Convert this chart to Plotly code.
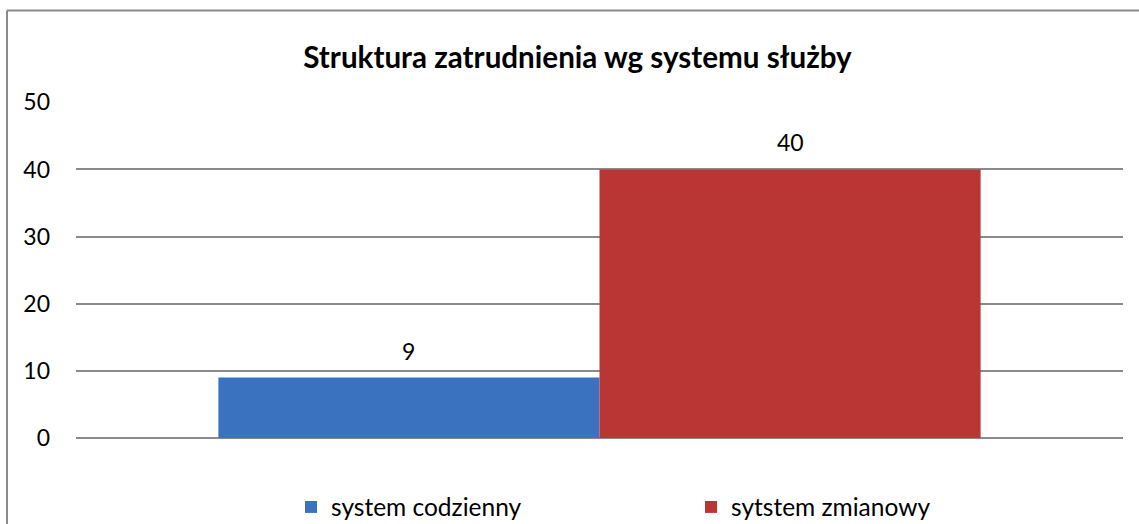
import plotly.graph_objects as go

categories = [""]
series_names = ["system codzienny", "sytstem zmianowy"]
series_values = [[9], [40]]
series_colors = ["#3a72bf", "#ba3634"]
title_text = "Struktura zatrudnienia wg systemu służby"
y_ticks = [0, 10, 20, 30, 40, 50]

W, H = 1139, 524
ml, mr, mt, mb = 76, 16, 102, 86
pw, ph = W - ml - mr, H - mt - mb
BARGAP = 0.272

FONT = "Lato, Carlito, Calibri, sans-serif"

fig = go.Figure()
for name, vals, col in zip(series_names, series_values, series_colors):
    fig.add_trace(go.Bar(
        x=categories, y=vals, name=name,
        marker=dict(color=col, line=dict(width=0)),
        cliponaxis=False,
    ))

# value labels placed above each bar (group offsets derived from bargap)
n = len(series_values)
bw = (1 - BARGAP) / n
annotations = []
for i, vals in enumerate(series_values):
    for j, v in enumerate(vals):
        xpos = j - (1 - BARGAP) / 2 + bw * (i + 0.5)
        annotations.append(dict(x=xpos, y=v, xref="x", yref="y", text=str(v),
                                showarrow=False, yanchor="middle", yshift=27,
                                font=dict(size=23, family=FONT, color="black")))


def px_x(p):
    return (p - ml) / pw


def px_y(p):
    return (H - mb - p) / ph


border = dict(color="#8a8a8a", width=2)

fig.update_layout(
    width=W, height=H,
    margin=dict(l=ml, r=mr, t=mt, b=mb, autoexpand=False),
    paper_bgcolor="white", plot_bgcolor="white",
    barmode="group", bargap=BARGAP, bargroupgap=0,
    font=dict(family=FONT, color="black"),
    title=dict(text="<b>" + title_text + "</b>", x=577.5 / W, xanchor="center",
               xref="container",
               y=1 - 58 / H, yanchor="middle",
               font=dict(size=29.6, family=FONT, color="black")),
    showlegend=True,
    legend=dict(orientation="h", x=px_x(291), xanchor="left",
                y=px_y(507), yanchor="middle",
                entrywidth=355, entrywidthmode="pixels",
                font=dict(size=24.5, family=FONT, color="black"),
                itemwidth=30, bgcolor="rgba(0,0,0,0)"),
    xaxis=dict(showticklabels=False, showgrid=False, zeroline=False,
               showline=False, ticks="", automargin=False),
    yaxis=dict(range=[0, 50.05], tickvals=y_ticks, showgrid=True,
               gridcolor="#8a8a8a", gridwidth=1.6, zeroline=True,
               zerolinecolor="#8a8a8a", zerolinewidth=1.6, showline=False,
               ticks="", ticklabelstandoff=25, automargin=False,
               tickfont=dict(size=23, family=FONT, color="black")),
    annotations=annotations,
    shapes=[
        dict(type="line", xref="paper", yref="paper",
             x0=px_x(7), x1=px_x(W), y0=px_y(10.5), y1=px_y(10.5), line=border,
             layer="below"),
        dict(type="line", xref="paper", yref="paper",
             x0=px_x(7), x1=px_x(7), y0=px_y(10.5), y1=px_y(H), line=border,
             layer="below"),
    ],
)

fig.write_html(
    "out.html",
    config={"displayModeBar": False},
    post_script=(
        "document.body.style.margin='0';"
        "document.body.style.overflow='hidden';"
        "document.documentElement.style.overflow='hidden';"
    ),
)
